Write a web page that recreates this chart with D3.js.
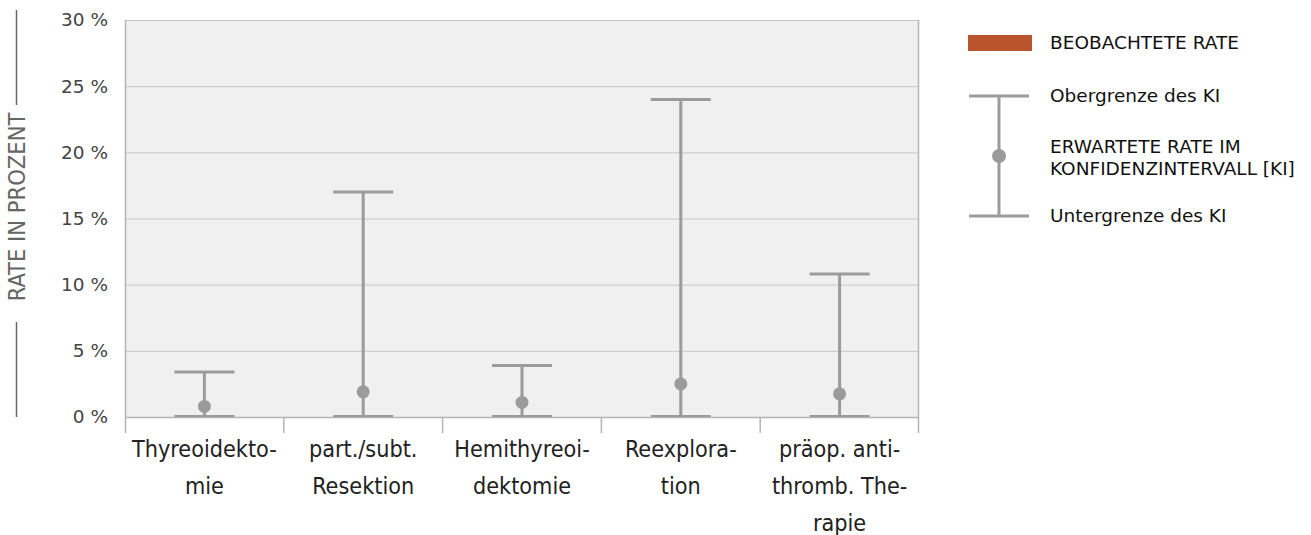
<!DOCTYPE html>
<html>
<head>
<meta charset="utf-8">
<script src="https://cdn.jsdelivr.net/npm/d3@7"></script>
<style>
  html, body { margin: 0; padding: 0; background: #fff; }
  svg { display: block; }
</style>
</head>
<body>
<svg id="chart" width="1311" height="535"></svg>
<script>
// Categories (label lines as printed, with hyphenation)
const categories = ["Thyreoidektomie", "part./subt. Resektion", "Hemithyreoidektomie", "Reexploration", "präop. antithromb. Therapie"];
const categoryLines = [
  ["Thyreoidekto-", "mie"],
  ["part./subt.", "Resektion"],
  ["Hemithyreoi-", "dektomie"],
  ["Reexplora-", "tion"],
  ["präop. anti-", "thromb. The-", "rapie"]
];
// Expected rate and confidence interval bounds (percent)
const expected = [0.8, 1.9, 1.1, 2.5, 1.75];
const upper    = [3.4, 17.0, 3.9, 24.0, 10.8];
const lower    = [0, 0, 0, 0, 0];
const yTicks   = [0, 5, 10, 15, 20, 25, 30];

const svg = d3.select("#chart");
const margin = { left: 125, right: 1311 - 919, top: 20, bottom: 535 - 417 };
const W = 1311, H = 535;

const x = d3.scaleBand().domain(categories).range([margin.left, W - margin.right]);
const y = d3.scaleLinear().domain([0, 30]).range([H - margin.bottom, margin.top]);

const grey = "#9b9b9b";
const axisCol = "#b5b5b5";
const narrow = "'Liberation Sans Narrow', 'DejaVu Sans Condensed', sans-serif";

// plot background
svg.append("rect")
  .attr("x", x.range()[0]).attr("y", y(30))
  .attr("width", x.range()[1] - x.range()[0]).attr("height", y(0) - y(30))
  .attr("fill", "#f0f0f0");

// horizontal grid
svg.append("g").selectAll("line").data(yTicks).join("line")
  .attr("x1", x.range()[0]).attr("x2", x.range()[1])
  .attr("y1", d => y(d) + 0.5).attr("y2", d => y(d) + 0.5)
  .attr("stroke", "#c6c6c6").attr("stroke-width", 1);

// y tick labels
svg.append("g").selectAll("text").data(yTicks).join("text")
  .attr("x", 108).attr("y", d => y(d))
  .attr("dy", "0.35em").attr("text-anchor", "end")
  .attr("font-family", "DejaVu Sans, sans-serif").attr("font-size", 18.5)
  .attr("fill", "#444")
  .text(d => d + " %");

// left and right frame, x axis with band separators
svg.append("line").attr("x1", x.range()[0] + 0.5).attr("x2", x.range()[0] + 0.5)
  .attr("y1", y(30)).attr("y2", y(0) + 16).attr("stroke", axisCol).attr("stroke-width", 1.5);
svg.append("line").attr("x1", x.range()[1] - 0.5).attr("x2", x.range()[1] - 0.5)
  .attr("y1", y(30)).attr("y2", y(0) + 16).attr("stroke", axisCol).attr("stroke-width", 1.5);
svg.append("line").attr("x1", x.range()[0]).attr("x2", x.range()[1])
  .attr("y1", y(0) + 0.5).attr("y2", y(0) + 0.5).attr("stroke", axisCol).attr("stroke-width", 1.5);
svg.append("g").selectAll("line").data(categories.slice(1)).join("line")
  .attr("x1", d => x(d)).attr("x2", d => x(d))
  .attr("y1", y(0)).attr("y2", y(0) + 16)
  .attr("stroke", axisCol).attr("stroke-width", 1.5);

// x labels (narrow face, stretched slightly upright)
const xl = svg.append("g").selectAll("text").data(categories).join("text")
  .attr("text-anchor", "middle")
  .attr("font-family", narrow)
  .attr("font-size", 23.2).attr("fill", "#222");
xl.each(function(d, i) {
  const t = d3.select(this);
  const cx = x(d) + x.bandwidth() / 2;
  categoryLines[i].forEach((ln, k) => {
    t.append("tspan").attr("x", cx).attr("y", 457 + k * 37).text(ln);
  });
});

// error bars
const capW = 60;
const eb = svg.append("g").selectAll("g").data(categories).join("g");
eb.append("line")
  .attr("x1", d => x(d) + x.bandwidth() / 2).attr("x2", d => x(d) + x.bandwidth() / 2)
  .attr("y1", (d, i) => y(upper[i])).attr("y2", (d, i) => y(lower[i]))
  .attr("stroke", grey).attr("stroke-width", 3);
eb.append("line")
  .attr("x1", d => x(d) + x.bandwidth() / 2 - capW / 2).attr("x2", d => x(d) + x.bandwidth() / 2 + capW / 2)
  .attr("y1", (d, i) => y(upper[i])).attr("y2", (d, i) => y(upper[i]))
  .attr("stroke", grey).attr("stroke-width", 3);
eb.append("line")
  .attr("x1", d => x(d) + x.bandwidth() / 2 - capW / 2).attr("x2", d => x(d) + x.bandwidth() / 2 + capW / 2)
  .attr("y1", (d, i) => y(lower[i]) - 1).attr("y2", (d, i) => y(lower[i]) - 1)
  .attr("stroke", grey).attr("stroke-width", 2);
eb.append("circle")
  .attr("cx", d => x(d) + x.bandwidth() / 2).attr("cy", (d, i) => y(expected[i]))
  .attr("r", 6.5).attr("fill", grey);

// y axis title with rules
const title = svg.append("g");
title.append("line").attr("x1", 16.5).attr("x2", 16.5).attr("y1", 10).attr("y2", 105)
  .attr("stroke", "#666").attr("stroke-width", 1.5);
title.append("line").attr("x1", 16.5).attr("x2", 16.5).attr("y1", 322).attr("y2", 417)
  .attr("stroke", "#666").attr("stroke-width", 1.5);
title.append("text")
  .attr("transform", "translate(25,207) rotate(-90)")
  .attr("text-anchor", "middle")
  .attr("font-family", narrow)
  .attr("font-size", 23.5).attr("fill", "#666")
  .text("RATE IN PROZENT");

// legend
const lg = svg.append("g").attr("font-family", "DejaVu Sans, sans-serif").attr("font-size", 18.5).attr("fill", "#111");
lg.append("rect").attr("x", 968).attr("y", 35).attr("width", 64).attr("height", 16).attr("fill", "#b9542c");
lg.append("text").attr("x", 1050).attr("y", 43).attr("dy", "0.35em").text("BEOBACHTETE RATE");
const lx = 999;
lg.append("line").attr("x1", lx).attr("x2", lx).attr("y1", 96).attr("y2", 216).attr("stroke", grey).attr("stroke-width", 3);
lg.append("line").attr("x1", lx - 30).attr("x2", lx + 30).attr("y1", 96).attr("y2", 96).attr("stroke", grey).attr("stroke-width", 3);
lg.append("line").attr("x1", lx - 30).attr("x2", lx + 30).attr("y1", 216).attr("y2", 216).attr("stroke", grey).attr("stroke-width", 3);
lg.append("circle").attr("cx", lx).attr("cy", 156).attr("r", 7).attr("fill", grey);
lg.append("text").attr("x", 1050).attr("y", 96).attr("dy", "0.35em").text("Obergrenze des KI");
lg.append("text").attr("x", 1050).attr("y", 147).attr("dy", "0.35em").text("ERWARTETE RATE IM");
lg.append("text").attr("x", 1050).attr("y", 169).attr("dy", "0.35em").text("KONFIDENZINTERVALL [KI]");
lg.append("text").attr("x", 1050).attr("y", 216).attr("dy", "0.35em").text("Untergrenze des KI");
</script>
</body>
</html>
